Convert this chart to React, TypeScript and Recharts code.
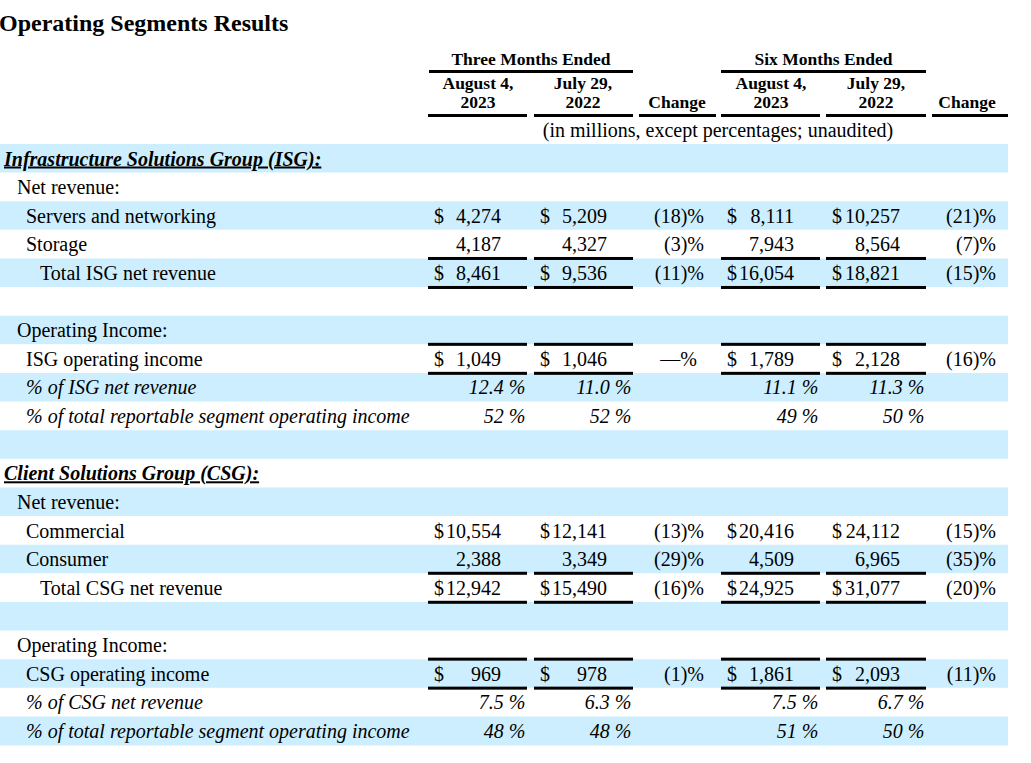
import { Bar, Cell, ComposedChart, Customized, LabelList, XAxis, YAxis } from "recharts";

const SERIF = "'Liberation Serif', 'Times New Roman', serif";
const BLUE = "#cceeff";

// table content
const chartTitle = "Operating Segments Results";
const periodTitles = ["Three Months Ended", "Six Months Ended"];
const columnHeads = [["August 4,", "2023"], ["July 29,", "2022"], ["Change"], ["August 4,", "2023"], ["July 29,", "2022"], ["Change"]];
const unitNote = "(in millions, except percentages; unaudited)";

const rowLabels = [
  "Infrastructure Solutions Group (ISG):",
  "Net revenue:",
  "Servers and networking",
  "Storage",
  "Total ISG net revenue",
  "",
  "Operating Income:",
  "ISG operating income",
  "% of ISG net revenue",
  "% of total reportable segment operating income",
  "",
  "Client Solutions Group (CSG):",
  "Net revenue:",
  "Commercial",
  "Consumer",
  "Total CSG net revenue",
  "",
  "Operating Income:",
  "CSG operating income",
  "% of CSG net revenue",
  "% of total reportable segment operating income",
];

const rowKinds = [
  "group", "heading", "first", "item", "total", "blank", "heading", "income", "pct1", "pct0", "blank",
  "group", "heading", "first", "item", "total", "blank", "heading", "income", "pct1", "pct0",
];

const threeMonths2023 = [null, null, 4274, 4187, 8461, null, null, 1049, 12.4, 52, null, null, null, 10554, 2388, 12942, null, null, 969, 7.5, 48];
const threeMonths2022 = [null, null, 5209, 4327, 9536, null, null, 1046, 11.0, 52, null, null, null, 12141, 3349, 15490, null, null, 978, 6.3, 48];
const threeMonthsChange = [null, null, -18, -3, -11, null, null, 0, null, null, null, null, null, -13, -29, -16, null, null, -1, null, null];
const sixMonths2023 = [null, null, 8111, 7943, 16054, null, null, 1789, 11.1, 49, null, null, null, 20416, 4509, 24925, null, null, 1861, 7.5, 51];
const sixMonths2022 = [null, null, 10257, 8564, 18821, null, null, 2128, 11.3, 50, null, null, null, 24112, 6965, 31077, null, null, 2093, 6.7, 50];
const sixMonthsChange = [null, null, -21, -7, -15, null, null, -16, null, null, null, null, null, -15, -35, -20, null, null, -11, null, null];

const valueSeries = [threeMonths2023, threeMonths2022, sixMonths2023, sixMonths2022];
const changeSeries = [threeMonthsChange, sixMonthsChange];

const tableRows = rowLabels.map((name, i) => ({ id: i, name, band: 1 }));

// layout (pixels)
const VALUE_COLS = [[428, 527], [534, 633], [721, 820], [826, 926]];
const CHANGE_COLS = [[639, 716], [932, 1008]];
const HEAD_COLS = [[428, 527], [534, 633], [639, 716], [721, 820], [826, 926], [932, 1008]];
const HEAD_CENTERS = [478, 583, 677, 771, 876, 967];
const PERIOD_SPANS = [[429, 633], [721, 926]];
const INDENT: Record<string, number> = { group: 4, heading: 17, first: 26, item: 26, income: 26, pct1: 26, pct0: 26, total: 40, blank: 0 };

const fmtChange = (v: number) => (v < 0 ? `(${-v})%` : v === 0 ? "—%" : `${v}%`);

const renderRow = (props: any) => {
  const { y, height, value } = props;
  const i = Number(value);
  const kind = rowKinds[i];
  const base = y + height / 2 + 7;
  const isPct = kind === "pct1" || kind === "pct0";
  const hasDollar = kind === "first" || kind === "total" || kind === "income";
  const out: any[] = [];

  out.push(
    <text
      key="lab"
      x={INDENT[kind]}
      y={base}
      fontFamily={SERIF}
      fontSize={20}
      fontWeight={kind === "group" ? "bold" : "normal"}
      fontStyle={kind === "group" || isPct ? "italic" : "normal"}
      textDecoration={kind === "group" ? "underline" : undefined}
      fill="#000"
    >
      {rowLabels[i]}
    </text>
  );

  valueSeries.forEach((s, j) => {
    const v = s[i];
    if (v == null) return;
    const [l, r] = VALUE_COLS[j];
    if (isPct) {
      const t = kind === "pct1" ? `${v.toFixed(1)} %` : `${v} %`;
      out.push(
        <text key={`v${j}`} x={r - 1.5} y={base} textAnchor="end" fontFamily={SERIF} fontSize={20} fontStyle="italic" fill="#000">
          {t}
        </text>
      );
    } else {
      if (hasDollar)
        out.push(
          <text key={`d${j}`} x={l + 6} y={base} fontFamily={SERIF} fontSize={20} fill="#000">
            $
          </text>
        );
      out.push(
        <text key={`v${j}`} x={r - 26} y={base} textAnchor="end" fontFamily={SERIF} fontSize={20} fill="#000">
          {v.toLocaleString("en-US")}
        </text>
      );
    }
  });

  changeSeries.forEach((s, j) => {
    const v = s[i];
    if (v == null) return;
    const t = fmtChange(v);
    const r = CHANGE_COLS[j][1] - 12 - (t.includes(")") ? 0 : 7);
    out.push(
      <text key={`c${j}`} x={r} y={base} textAnchor="end" fontFamily={SERIF} fontSize={20} fill="#000">
        {t}
      </text>
    );
  });

  if (kind === "total" || kind === "income") {
    VALUE_COLS.forEach(([l, r], j) => {
      out.push(<rect key={`a${j}`} x={l} y={y - 1.5} width={r - l} height={3} fill="#000" />);
      out.push(<rect key={`b${j}`} x={l} y={y + height - 1.5} width={r - l} height={3} fill="#000" />);
    });
  }

  return <g>{out}</g>;
};

const Header = () => (
  <g fontFamily={SERIF} fill="#000">
    <text x={-1} y={31} fontSize={24} fontWeight="bold">
      {chartTitle}
    </text>
    {periodTitles.map((t, j) => {
      const [l, r] = PERIOD_SPANS[j];
      return (
        <g key={t}>
          <text x={(l + r) / 2} y={65} textAnchor="middle" fontSize={17.5} fontWeight="bold">
            {t}
          </text>
          <rect x={l} y={70} width={r - l} height={3} fill="#000" />
        </g>
      );
    })}
    {columnHeads.map((lines, j) => (
      <g key={j}>
        {lines.map((ln, k) => (
          <text
            key={k}
            x={HEAD_CENTERS[j]}
            y={lines.length === 1 ? 108 : 89 + k * 19}
            textAnchor="middle"
            fontSize={17.5}
            fontWeight="bold"
          >
            {ln}
          </text>
        ))}
        <rect x={HEAD_COLS[j][0]} y={114} width={HEAD_COLS[j][1] - HEAD_COLS[j][0]} height={3} fill="#000" />
      </g>
    ))}
    <text x={718} y={137} textAnchor="middle" fontSize={20}>
      {unitNote}
    </text>
  </g>
);

export default function App() {
  return (
    <div style={{ position: "absolute", left: 0, top: 0, background: "#fff" }}>
      <ComposedChart
        width={1031}
        height={763}
        layout="vertical"
        data={tableRows}
        margin={{ top: 144, right: 23, bottom: 18, left: 0 }}
        barCategoryGap={0}
      >
        <XAxis type="number" domain={[0, 1]} hide />
        <YAxis type="category" dataKey="id" hide />
        <Bar dataKey="band" isAnimationActive={false}>
          {tableRows.map((r, i) => (
            <Cell key={r.id} fill={i % 2 === 0 ? BLUE : "#ffffff"} />
          ))}
          <LabelList dataKey="id" content={renderRow} />
        </Bar>
        <Customized component={Header} />
      </ComposedChart>
    </div>
  );
}
